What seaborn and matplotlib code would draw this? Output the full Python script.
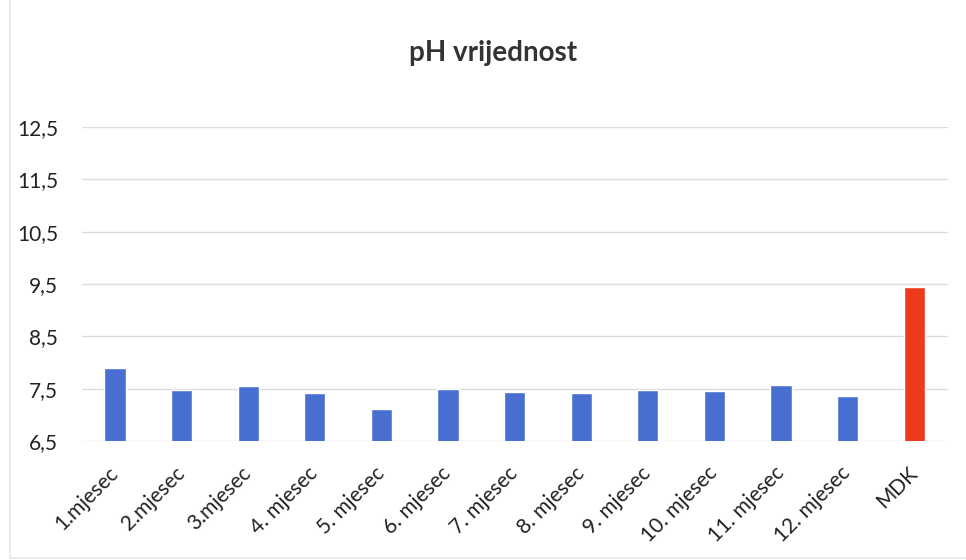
import matplotlib
matplotlib.use("Agg")
import matplotlib.pyplot as plt
import seaborn as sns
import pandas as pd
from matplotlib.lines import Line2D

categories = ["1.mjesec", "2.mjesec", "3.mjesec", "4. mjesec", "5. mjesec", "6. mjesec",
              "7. mjesec", "8. mjesec", "9. mjesec", "10. mjesec", "11. mjesec", "12. mjesec", "MDK"]
ph_values = [7.9, 7.48, 7.55, 7.42, 7.12, 7.49, 7.44, 7.41, 7.48, 7.46, 7.57, 7.36, 9.45]
bar_colors = ["#4a6fd3"] * 12 + ["#ee3a1a"]
y_ticks = [6.5, 7.5, 8.5, 9.5, 10.5, 11.5, 12.5]
y_tick_labels = ["6,5", "7,5", "8,5", "9,5", "10,5", "11,5", "12,5"]
title = "pH vrijednost"

sns.set_theme(style="white")
plt.rcParams["font.family"] = ["Lato", "DejaVu Sans"]

df = pd.DataFrame({"mjesec": categories, "pH": ph_values})

fig = plt.figure(figsize=(9.66, 5.6), dpi=100)
ax = fig.add_axes([81.7 / 966, 1 - 441 / 560, (947.5 - 81.7) / 966, (441 - 127) / 560])

sns.barplot(data=df, x="mjesec", y="pH", hue="mjesec", palette=bar_colors,
            legend=False, width=0.32, saturation=1, ax=ax, zorder=3)

ax.set_ylim(6.5, 12.5)
ax.set_yticks(y_ticks)
ax.set_yticklabels(y_tick_labels)
ax.set_xlabel("")
ax.set_ylabel("")
ax.grid(axis="y", color="#dcdcdc", linewidth=1.0, zorder=0)
ax.set_axisbelow(True)
for s in ax.spines.values():
    s.set_visible(False)
ax.tick_params(axis="y", length=0, pad=17, labelsize=15, labelcolor="#222222")
ax.tick_params(axis="x", length=0, pad=21, labelsize=15, labelcolor="#222222")
for lab in ax.get_xticklabels():
    lab.set_rotation(45)
    lab.set_ha("right")
    lab.set_va("center")
    lab.set_rotation_mode("anchor")

fig.text(493 / 966, 1 - 53 / 560, title, ha="center", va="center",
         fontsize=20, fontweight="bold", color="#333333")

# faint chart border (left and bottom)
fig.add_artist(Line2D([10 / 966, 10 / 966], [2 / 560, 1.0], color="#e6e6e6", linewidth=1.2))
fig.add_artist(Line2D([10 / 966, 1.0], [2 / 560, 2 / 560], color="#e6e6e6", linewidth=1.2))

fig.savefig("out.png", dpi=100)
